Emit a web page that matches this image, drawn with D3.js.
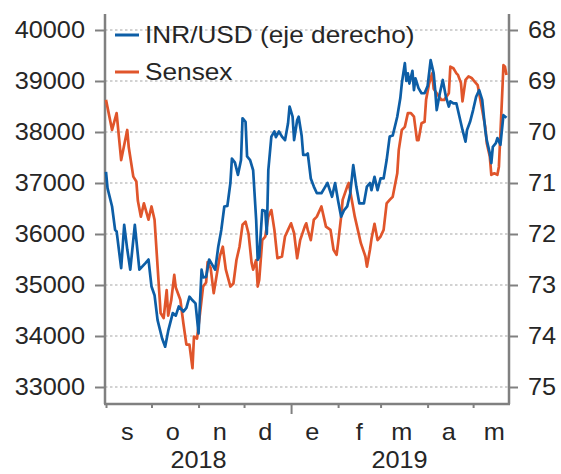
<!DOCTYPE html>
<html>
<head>
<meta charset="utf-8">
<script src="https://cdn.jsdelivr.net/npm/d3@7"></script>
<style>
  body { margin: 0; background: #fff; }
  svg { display: block; }
</style>
</head>
<body>
<svg id="chart" width="561" height="474"></svg>
<script>
// Sensex (left axis)
const sensexDates = [
  "2018-09-01","2018-09-05","2018-09-08","2018-09-11","2018-09-15","2018-09-16","2018-09-19","2018-09-21",
  "2018-09-22","2018-09-24","2018-09-26","2018-09-29","2018-10-01","2018-10-03","2018-10-07","2018-10-09",
  "2018-10-11","2018-10-12","2018-10-14","2018-10-16","2018-10-17","2018-10-20","2018-10-22","2018-10-24",
  "2018-10-26","2018-10-28","2018-10-29","2018-10-31","2018-11-02","2018-11-04","2018-11-06","2018-11-07",
  "2018-11-09","2018-11-11","2018-11-13","2018-11-15","2018-11-17","2018-11-19","2018-11-22","2018-11-24",
  "2018-11-26","2018-11-28","2018-11-30","2018-12-02","2018-12-04","2018-12-06","2018-12-07","2018-12-09",
  "2018-12-10","2018-12-11","2018-12-13","2018-12-15","2018-12-17","2018-12-19","2018-12-21","2018-12-23",
  "2018-12-26","2018-12-28","2018-12-30","2019-01-01","2019-01-03","2019-01-05","2019-01-07","2019-01-10",
  "2019-01-11","2019-01-12","2019-01-14","2019-01-16","2019-01-18","2019-01-21","2019-01-24","2019-01-27",
  "2019-01-29","2019-01-31","2019-02-01","2019-02-03","2019-02-04","2019-02-07","2019-02-08","2019-02-10",
  "2019-02-12","2019-02-14","2019-02-16","2019-02-19","2019-02-20","2019-02-22","2019-02-23","2019-02-25",
  "2019-02-27","2019-03-01","2019-03-03","2019-03-05","2019-03-07","2019-03-09","2019-03-12","2019-03-13",
  "2019-03-15","2019-03-17","2019-03-19","2019-03-21","2019-03-23","2019-03-25","2019-03-26","2019-03-28",
  "2019-03-30","2019-03-31","2019-04-02","2019-04-04","2019-04-05","2019-04-07","2019-04-10","2019-04-12",
  "2019-04-15","2019-04-16","2019-04-18","2019-04-20","2019-04-21","2019-04-23","2019-04-24","2019-04-26",
  "2019-04-28","2019-04-30","2019-05-02","2019-05-04","2019-05-07","2019-05-09","2019-05-10","2019-05-12",
  "2019-05-13","2019-05-15","2019-05-17","2019-05-18","2019-05-19","2019-05-20","2019-05-21","2019-05-22",
  "2019-05-23"
];
const sensexValues = [
  38630,38040,38370,37450,38040,37700,37125,37030,
  36650,36340,36600,36280,36540,36280,34450,34350,
  34900,34400,34700,35200,34950,34710,34250,33830,
  33830,33370,33990,33950,34450,34970,35050,35450,
  35330,34840,35200,35560,35750,35300,34970,35030,
  35490,35750,36180,36240,36000,35430,35300,35490,
  34970,35100,35880,35950,36340,36470,36080,35525,
  35560,35950,36080,36210,36015,35525,35880,36145,
  36210,36080,35880,36280,36340,36540,36145,36080,
  35690,35590,35820,36340,36670,36930,37000,36670,
  36340,36080,35820,35560,35360,35690,35900,36200,
  35880,35950,36080,36600,36670,36730,37190,37650,
  38040,38100,38370,38370,38300,37840,37840,38170,
  38200,38630,38950,39150,38850,38760,38630,38630,
  38760,39280,39250,39150,39120,38960,38600,39020,
  39090,39060,38990,38920,38430,38100,37780,37520,
  37160,37190,37160,37320,37970,38630,39310,39280,
  39120
];

// INR/USD (right axis, inverted)
const inrDates = [
  "2018-09-01","2018-09-02","2018-09-05","2018-09-07","2018-09-08","2018-09-11","2018-09-13","2018-09-15",
  "2018-09-17","2018-09-20","2018-09-23","2018-09-27","2018-09-29","2018-10-01","2018-10-03","2018-10-05",
  "2018-10-08","2018-10-10","2018-10-12","2018-10-15","2018-10-17","2018-10-19","2018-10-22","2018-10-24",
  "2018-10-26","2018-10-28","2018-10-30","2018-11-01","2018-11-03","2018-11-04","2018-11-06","2018-11-08",
  "2018-11-10","2018-11-12","2018-11-14","2018-11-16","2018-11-18","2018-11-20","2018-11-22","2018-11-23",
  "2018-11-25","2018-11-27","2018-11-29","2018-11-30","2018-12-02","2018-12-03","2018-12-05","2018-12-07",
  "2018-12-09","2018-12-10","2018-12-11","2018-12-13","2018-12-15","2018-12-16","2018-12-17","2018-12-19",
  "2018-12-21","2018-12-22","2018-12-24","2018-12-26","2018-12-28","2018-12-30","2018-12-31","2019-01-02",
  "2019-01-03","2019-01-05","2019-01-06","2019-01-08","2019-01-09","2019-01-11","2019-01-12","2019-01-14",
  "2019-01-16","2019-01-18","2019-01-21","2019-01-23","2019-01-25","2019-01-28","2019-01-30","2019-02-01",
  "2019-02-03","2019-02-05","2019-02-07","2019-02-09","2019-02-11","2019-02-13","2019-02-15","2019-02-18",
  "2019-02-20","2019-02-22","2019-02-23","2019-02-25","2019-02-27","2019-03-01","2019-03-03","2019-03-05",
  "2019-03-07","2019-03-09","2019-03-12","2019-03-14","2019-03-15","2019-03-17","2019-03-18","2019-03-19",
  "2019-03-20","2019-03-22","2019-03-23","2019-03-24","2019-03-26","2019-03-28","2019-03-30","2019-04-01",
  "2019-04-03","2019-04-05","2019-04-06","2019-04-07","2019-04-09","2019-04-11","2019-04-13","2019-04-15",
  "2019-04-16","2019-04-18","2019-04-20","2019-04-22","2019-04-24","2019-04-26","2019-04-27","2019-04-29",
  "2019-05-01","2019-05-03","2019-05-05","2019-05-07","2019-05-09","2019-05-10","2019-05-12","2019-05-13",
  "2019-05-14","2019-05-16","2019-05-17","2019-05-19","2019-05-20","2019-05-21","2019-05-23"
];
const inrValues = [
  70.78,71.10,71.46,71.92,71.95,72.67,71.82,72.30,
  72.70,71.82,72.70,72.57,72.50,73.03,73.20,73.69,
  74.05,74.21,73.90,73.55,73.60,73.42,73.52,73.45,
  73.23,73.30,73.36,73.95,72.70,72.85,72.84,72.50,
  72.60,72.70,72.25,71.92,71.46,71.45,71.00,70.52,
  70.60,70.84,70.55,69.73,69.80,70.48,70.55,70.75,
  71.73,72.51,72.45,71.53,71.55,72.00,70.75,70.09,
  69.99,70.10,69.99,70.09,70.16,69.83,69.50,69.70,
  70.16,69.77,69.70,70.08,70.45,70.45,70.42,70.91,
  71.07,71.20,71.20,71.10,71.00,71.27,71.00,71.35,
  71.66,71.53,71.46,71.20,70.65,71.07,71.40,71.40,
  71.07,71.00,71.14,70.88,71.14,70.91,70.91,70.55,
  70.09,70.07,69.70,69.34,69.05,68.65,69.00,68.85,
  69.05,68.80,69.18,68.95,69.14,69.24,69.24,69.10,
  68.59,68.85,69.18,69.57,69.25,68.98,69.30,69.50,
  69.40,69.44,69.44,69.70,69.96,70.19,69.96,69.80,
  69.57,69.31,69.18,69.37,69.96,70.16,70.42,70.61,
  70.29,70.22,70.12,70.25,69.96,69.67,69.72
];

const leftTicks = [33000, 34000, 35000, 36000, 37000, 38000, 39000, 40000];
const rightTicks = [68, 69, 70, 71, 72, 73, 74, 75];
const monthLabels = ["s", "o", "n", "d", "e", "f", "m", "a", "m"];
const yearLabels = ["2018", "2019"];
const seriesNames = ["INR/USD (eje derecho)", "Sensex"];

const width = 561, height = 474;
const plotLeft = 105, plotRight = 509, plotTop = 14, plotBottom = 404;
const blue = "#0d5ea6", red = "#e0552b";
const axisColor = "#808080", textColor = "#262626";
const font = "'Liberation Sans', Arial, sans-serif";
const fs = 23, sx = 1.1; // text in the reference is slightly stretched horizontally

const parse = d3.timeParse("%Y-%m-%d");
const sensex = sensexDates.map((d, i) => ({ date: parse(d), value: sensexValues[i] }));
const inr = inrDates.map((d, i) => ({ date: parse(d), value: inrValues[i] }));

const svg = d3.select("#chart");

const x = d3.scaleTime()
  .domain([new Date(2018, 8, 1), new Date(2019, 4, 24)])
  .range([106, 508]);
const yL = d3.scaleLinear().domain([33000, 40000]).range([387, 30]);
const yR = d3.scaleLinear().domain([68, 75]).range([30, 387]);

// dotted gridlines
svg.append("g")
  .selectAll("line")
  .data(leftTicks)
  .enter()
  .append("line")
  .attr("x1", plotLeft)
  .attr("x2", plotRight)
  .attr("y1", d => yL(d))
  .attr("y2", d => yL(d))
  .attr("stroke", "#c4c4c4")
  .attr("stroke-width", 1.5)
  .attr("stroke-dasharray", "2.5,2.5");

function styleTicks(g, dx, anchor) {
  g.select(".domain").remove();
  g.selectAll(".tick line").attr("stroke", axisColor).attr("stroke-width", 2);
  g.selectAll(".tick text")
    .attr("x", dx / sx)
    .attr("text-anchor", anchor)
    .attr("transform", `scale(${sx},1)`)
    .attr("font-family", font)
    .attr("font-size", fs)
    .attr("fill", textColor);
}

svg.append("g")
  .attr("transform", `translate(${plotLeft},0)`)
  .call(d3.axisLeft(yL).tickValues(leftTicks).tickSize(10).tickFormat(d3.format("d")))
  .call(g => styleTicks(g, -20, "end"));

svg.append("g")
  .attr("transform", `translate(${plotRight},0)`)
  .call(d3.axisRight(yR).tickValues(rightTicks).tickSize(9).tickFormat(d3.format("d")))
  .call(g => styleTicks(g, 19, "start"));

// month ticks, longer one at the year change
const monthStarts = d3.timeMonth.range(new Date(2018, 8, 1), new Date(2019, 5, 1));
svg.append("g")
  .attr("transform", `translate(0,${plotBottom})`)
  .call(d3.axisBottom(x).tickValues(monthStarts).tickSize(4).tickFormat(""))
  .call(g => g.select(".domain").remove())
  .call(g => g.selectAll(".tick line")
    .attr("stroke", axisColor)
    .attr("stroke-width", 2)
    .attr("y2", d => d.getMonth() === 0 ? 10 : 4));

// axis frame
[[plotLeft, plotTop, plotLeft, plotBottom], [plotRight, plotTop, plotRight, plotBottom], [plotLeft - 1, plotBottom, plotRight + 1, plotBottom]].forEach(([x1, y1, x2, y2]) => {
  svg.append("line")
    .attr("x1", x1).attr("y1", y1).attr("x2", x2).attr("y2", y2)
    .attr("stroke", axisColor)
    .attr("stroke-width", 2.5);
});

svg.append("g")
  .selectAll("text")
  .data(monthStarts)
  .enter()
  .append("text")
  .attr("transform", d => `translate(${x(new Date(d.getFullYear(), d.getMonth(), 15))},440) scale(${sx},1)`)
  .attr("text-anchor", "middle")
  .attr("font-family", font)
  .attr("font-size", fs)
  .attr("fill", textColor)
  .text((d, i) => monthLabels[i]);

const yearSpans = [[new Date(2018, 8, 1), new Date(2019, 0, 1)], [new Date(2019, 0, 1), new Date(2019, 4, 24)]];
svg.append("g")
  .selectAll("text")
  .data(yearSpans)
  .enter()
  .append("text")
  .attr("transform", d => `translate(${(x(d[0]) + x(d[1])) / 2},468) scale(${sx},1)`)
  .attr("text-anchor", "middle")
  .attr("font-family", font)
  .attr("font-size", fs)
  .attr("fill", textColor)
  .text((d, i) => yearLabels[i]);

// series
svg.append("path")
  .datum(sensex)
  .attr("fill", "none")
  .attr("stroke", red)
  .attr("stroke-width", 2.7)
  .attr("stroke-linejoin", "round")
  .attr("d", d3.line().x(d => x(d.date)).y(d => yL(d.value)));

svg.append("path")
  .datum(inr)
  .attr("fill", "none")
  .attr("stroke", blue)
  .attr("stroke-width", 2.7)
  .attr("stroke-linejoin", "round")
  .attr("d", d3.line().x(d => x(d.date)).y(d => yR(d.value)));

// legend
const legend = svg.append("g");
const legendRows = [{ name: seriesNames[0], color: blue, y: 35 }, { name: seriesNames[1], color: red, y: 72 }];
legend.selectAll("line")
  .data(legendRows)
  .enter()
  .append("line")
  .attr("x1", 115)
  .attr("x2", 139)
  .attr("y1", d => d.y)
  .attr("y2", d => d.y)
  .attr("stroke", d => d.color)
  .attr("stroke-width", 3);
legend.selectAll("text")
  .data(legendRows)
  .enter()
  .append("text")
  .attr("transform", d => `translate(145,${d.y + 8}) scale(1.14,1)`)
  .attr("font-family", font)
  .attr("font-size", fs)
  .attr("fill", textColor)
  .text(d => d.name);
</script>
</body>
</html>
